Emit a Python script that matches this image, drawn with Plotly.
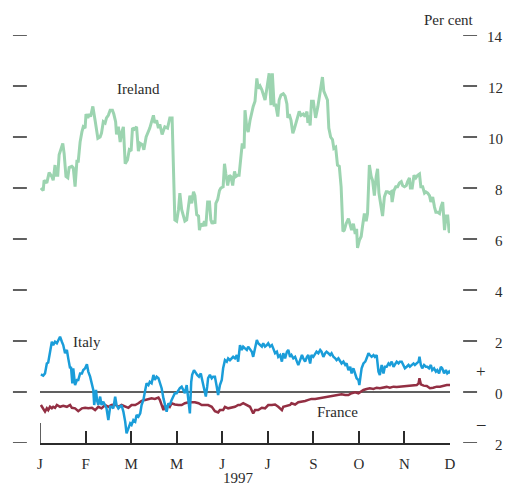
import plotly.graph_objects as go

# ---------------- data (x in months since start of January 1997) ----------------
month_ticks = [0, 1, 2, 3, 4, 5, 6, 7, 8, 9]
month_labels = ["J", "F", "M", "M", "J", "J", "S", "O", "N", "D"]
y_ticks = [-2, 0, 2, 4, 6, 8, 10, 12, 14]
y_tick_labels = ["2", "0", "2", "4", "6", "8", "10", "12", "14"]

ireland_x = [0.02, 0.07, 0.09, 0.15, 0.20, 0.26, 0.29, 0.33, 0.35, 0.39,
             0.42, 0.46, 0.50, 0.53, 0.57, 0.61, 0.64, 0.70, 0.73, 0.77,
             0.81, 0.84, 0.88, 0.92, 0.95, 0.99, 1.01, 1.05, 1.08, 1.11,
             1.16, 1.21, 1.27, 1.32, 1.35, 1.39, 1.43, 1.46, 1.50, 1.54,
             1.59, 1.62, 1.66, 1.68, 1.72, 1.76, 1.79, 1.83, 1.87, 1.92,
             1.96, 2.00, 2.03, 2.07, 2.12, 2.16, 2.20, 2.25, 2.28, 2.33,
             2.38, 2.41, 2.45, 2.49, 2.52, 2.56, 2.60, 2.63, 2.68, 2.74,
             2.80, 2.85, 2.90, 2.96, 3.00, 3.04, 3.07, 3.11, 3.15, 3.18,
             3.22, 3.26, 3.29, 3.33, 3.37, 3.40, 3.44, 3.48, 3.50, 3.53,
             3.57, 3.61, 3.64, 3.68, 3.72, 3.75, 3.78, 3.82, 3.84, 3.86,
             3.90, 3.94, 3.97, 4.02, 4.05, 4.08, 4.12, 4.16, 4.19, 4.23,
             4.27, 4.30, 4.34, 4.37, 4.41, 4.44, 4.48, 4.50, 4.54, 4.57,
             4.61, 4.65, 4.68, 4.72, 4.76, 4.79, 4.83, 4.87, 4.90, 4.94,
             4.98, 5.01, 5.03, 5.07, 5.10, 5.14, 5.17, 5.22, 5.25, 5.29,
             5.34, 5.38, 5.42, 5.44, 5.47, 5.51, 5.55, 5.58, 5.62, 5.66,
             5.69, 5.73, 5.78, 5.82, 5.86, 5.88, 5.91, 5.93, 5.96, 6.00,
             6.05, 6.10, 6.15, 6.20, 6.23, 6.28, 6.31, 6.34, 6.38, 6.42,
             6.45, 6.49, 6.53, 6.57, 6.61, 6.65, 6.68, 6.72, 6.77, 6.81,
             6.84, 6.88, 6.92, 6.95, 6.97, 7.01, 7.05, 7.08, 7.12, 7.16,
             7.19, 7.23, 7.27, 7.30, 7.34, 7.38, 7.41, 7.44, 7.49, 7.52,
             7.56, 7.60, 7.63, 7.67, 7.71, 7.73, 7.77, 7.81, 7.85, 7.89,
             7.93, 7.96, 8.00, 8.04, 8.07, 8.11, 8.13, 8.17, 8.21, 8.25,
             8.29, 8.33, 8.36, 8.40, 8.44, 8.47, 8.51, 8.55, 8.58, 8.62,
             8.66, 8.69, 8.73, 8.77, 8.80, 8.84, 8.88, 8.91, 8.95, 8.98,
             9.00]
ireland_y = [8.0, 7.9, 8.3, 8.2, 8.6, 8.45, 8.3, 8.9, 8.5, 8.5,
             9.3, 9.55, 9.75, 9.35, 8.45, 8.4, 8.8, 8.85, 8.8, 8.05,
             9.05, 9.05, 9.8, 10.2, 10.4, 10.35, 10.9, 10.75, 10.9, 10.8,
             11.2, 10.65, 9.95, 10.0, 10.15, 10.6, 10.55, 10.75, 10.85, 11.05,
             11.05, 10.9, 10.6, 10.1, 10.4, 9.8, 10.15, 10.4, 8.95, 9.1,
             9.5, 9.45, 10.35, 10.3, 10.4, 9.45, 9.75, 9.7, 9.5, 10.0,
             10.2, 10.35, 10.6, 10.85, 10.55, 10.65, 10.35, 10.5, 10.1, 10.4,
             10.35, 10.75, 10.75, 6.75, 6.7, 7.15, 7.8, 7.15, 6.9, 6.7,
             6.75, 7.4, 7.7, 7.4, 7.85, 7.7, 6.95, 6.9, 6.35, 6.6,
             6.5, 6.7, 6.5, 7.45, 7.45, 6.75, 6.6, 6.7, 6.6, 7.4,
             7.55, 7.9, 8.0, 8.05, 8.95, 8.55, 8.1, 8.5, 8.45, 8.1,
             8.65, 8.45, 8.5, 8.5, 9.2, 9.75, 9.55, 11.05, 10.35, 10.2,
             10.65, 11.0, 11.2, 11.4, 12.3, 11.9, 12.0, 11.85, 11.65, 11.45,
             11.9, 12.2, 12.5, 11.25, 12.5, 11.2, 11.3, 10.8, 11.45, 11.65,
             11.7, 11.6, 11.3, 10.75, 10.9, 10.65, 10.15, 10.3, 10.6, 10.8,
             11.0, 10.85, 10.9, 10.8, 11.0, 10.55, 10.85, 10.45, 11.4, 11.4,
             10.75, 11.2, 11.8, 12.35, 11.8, 11.6, 11.45, 10.35, 10.0, 9.9,
             9.55, 9.6, 8.9, 8.85, 8.05, 6.3, 6.35, 6.6, 6.8, 6.55,
             6.35, 6.6, 6.2, 6.4, 5.65, 5.95, 6.1, 6.5, 7.0, 6.7,
             7.0, 8.9, 8.45, 8.3, 7.7, 8.45, 8.75, 7.8, 7.15, 6.9,
             7.65, 7.85, 7.85, 7.8, 7.85, 7.45, 7.9, 8.05, 8.05, 8.2,
             8.25, 8.1, 8.05, 8.1, 8.25, 8.4, 8.0, 8.0, 8.5, 8.4,
             8.5, 8.55, 8.05, 8.05, 7.8, 7.85, 7.8, 7.7, 7.45, 7.65,
             7.25, 7.05, 7.05, 7.0, 7.25, 7.45, 6.35, 6.9, 6.9, 6.3,
             6.25]

italy_x = [0.02, 0.07, 0.11, 0.15, 0.18, 0.22, 0.26, 0.29, 0.33, 0.37,
           0.40, 0.44, 0.48, 0.51, 0.55, 0.59, 0.62, 0.66, 0.68, 0.71,
           0.73, 0.77, 0.81, 0.84, 0.88, 0.92, 0.95, 0.99, 1.03, 1.06,
           1.10, 1.14, 1.17, 1.19, 1.23, 1.25, 1.28, 1.32, 1.35, 1.39,
           1.43, 1.46, 1.50, 1.54, 1.57, 1.61, 1.65, 1.68, 1.72, 1.76,
           1.79, 1.83, 1.87, 1.90, 1.94, 1.98, 2.01, 2.05, 2.09, 2.12,
           2.16, 2.20, 2.23, 2.27, 2.31, 2.34, 2.38, 2.41, 2.45, 2.49,
           2.52, 2.56, 2.60, 2.63, 2.67, 2.71, 2.74, 2.78, 2.82, 2.85,
           2.89, 2.93, 2.96, 3.00, 3.04, 3.07, 3.11, 3.15, 3.18, 3.22,
           3.26, 3.29, 3.32, 3.34, 3.38, 3.42, 3.45, 3.49, 3.53, 3.56,
           3.60, 3.64, 3.67, 3.69, 3.73, 3.77, 3.80, 3.84, 3.88, 3.91,
           3.95, 3.99, 4.02, 4.06, 4.10, 4.13, 4.17, 4.21, 4.24, 4.28,
           4.32, 4.35,
           4.39, 4.43, 4.46, 4.50, 4.54, 4.57, 4.61, 4.65, 4.68, 4.72,
           4.76, 4.79, 4.83, 4.87, 4.90, 4.94, 4.98, 5.01, 5.05, 5.09,
           5.12, 5.16, 5.20, 5.23, 5.27, 5.31, 5.34, 5.38, 5.42, 5.45,
           5.49, 5.52, 5.56, 5.60, 5.64, 5.67, 5.71, 5.75, 5.78, 5.82,
           5.86, 5.89, 5.93, 5.96, 6.00, 6.04, 6.07, 6.11, 6.15, 6.18,
           6.22, 6.26, 6.29, 6.33, 6.37, 6.40, 6.44, 6.48, 6.51, 6.55,
           6.59, 6.62, 6.66, 6.70, 6.73, 6.77, 6.81, 6.84, 6.88, 6.92,
           6.95, 6.99, 7.01, 7.04, 7.06, 7.10, 7.14, 7.17, 7.21, 7.24,
           7.28, 7.32, 7.35, 7.39, 7.43, 7.46, 7.50, 7.54, 7.57, 7.61,
           7.65, 7.68, 7.72, 7.76, 7.79, 7.83, 7.87, 7.90, 7.94, 7.98,
           8.01, 8.05, 8.09, 8.12, 8.16, 8.20, 8.23, 8.27, 8.31, 8.33,
           8.36, 8.39, 8.43, 8.47, 8.50, 8.54, 8.58, 8.61, 8.65, 8.69,
           8.72, 8.76, 8.80, 8.83, 8.87, 8.91, 8.94, 8.98, 9.00]
italy_y = [0.69, 0.64, 0.73, 1.12, 1.16, 1.65, 1.97, 1.84, 1.97, 1.91,
           2.04, 2.17, 1.97, 1.84, 1.52, 1.65, 1.32, 0.93, 0.99, 0.34,
           0.93, 0.27, 0.47, 0.47, 0.73, 0.73, 0.86, 0.93, 1.09, 0.80,
           0.60, 0.34, 0.08, -0.51, 0.08, -0.31, -0.51, -0.18, -0.51, -0.38,
           -0.51, -0.64, -1.10, -0.58, -0.58, -0.64, -0.18, -0.51, -0.64, -0.58,
           -0.51, -0.77, -1.16, -1.62, -1.42, -1.23, -1.29, -1.10, -1.16, -0.90,
           -0.97, -0.84, -0.51, -0.31, 0.08, 0.34, 0.27, 0.40, 0.34, 0.67,
           0.47, 0.60, 0.54, 0.34, 0.15, -0.25, -0.51, -0.77, -0.44, -0.51,
           -0.31, -0.18, -0.05, -0.05, 0.08, 0.15, 0.21, 0.08, -0.05, 0.27,
           -0.31, -0.84, 0.40, 0.67, 0.86, 0.73, 0.67, 0.60, 0.73, 0.47,
           0.08, -0.18, 0.21, 0.54, 0.67, 0.54, 0.60, 0.60, 0.21, -0.12,
           0.27, 0.47, 0.93, 1.25, 1.19, 1.32, 1.25, 1.32, 1.38, 1.32,
           1.45, 1.19,
           1.84, 1.65, 1.78, 1.71, 1.65, 1.78, 1.65, 1.58, 1.38, 1.71,
           2.04, 1.91, 1.84, 1.78, 1.91, 1.78, 1.84, 1.91, 1.78, 1.84,
           1.71, 1.52, 1.58, 1.38, 1.45, 1.19, 1.52, 1.32, 1.58, 1.65,
           1.38, 1.45, 1.32, 1.38, 1.19, 1.06, 1.25, 1.45, 1.32, 1.19,
           1.38, 1.45, 1.12, 1.45, 1.38, 1.52, 1.58, 1.52, 1.65, 1.58,
           1.38, 1.52, 1.58, 1.52, 1.45, 1.52, 1.38, 1.32, 1.25, 1.32,
           1.19, 1.12, 1.19, 1.06, 1.12, 0.86, 0.99, 0.73, 0.93, 0.73,
           0.54, 0.47, 0.27, 0.67, 0.93, 1.12, 1.19, 1.32, 1.52, 1.45,
           1.38, 1.45, 1.38, 1.45, 0.80, 0.67, 1.06, 0.73, 0.99, 0.99,
           1.12, 1.06, 1.19, 0.99, 1.06, 1.19, 1.12, 1.19, 1.19, 1.06,
           0.93, 0.99, 1.06, 0.99, 1.06, 1.12, 1.06, 1.12, 1.19, 1.38,
           1.06, 0.93, 1.06, 0.99, 0.99, 0.93, 1.06, 0.86, 0.93, 0.80,
           0.86, 0.73, 0.99, 0.93, 0.73, 0.86, 0.73, 0.80, 0.73]

france_x = [0.02, 0.07, 0.11, 0.15, 0.18, 0.22, 0.26, 0.29, 0.33, 0.37,
            0.44, 0.51, 0.59, 0.66, 0.70, 0.77, 0.84, 0.92, 0.99, 1.06,
            1.14, 1.21, 1.28, 1.35, 1.43, 1.50, 1.57, 1.65, 1.72, 1.79,
            1.87, 1.94, 2.01, 2.09, 2.16, 2.23, 2.31, 2.38, 2.45, 2.52,
            2.60, 2.63, 2.67, 2.71, 2.74, 2.78, 2.82, 2.85, 2.89, 2.96,
            3.04, 3.11, 3.18, 3.26, 3.33, 3.40, 3.48, 3.55, 3.62, 3.69,
            3.77, 3.84, 3.91, 3.95, 4.02, 4.06, 4.13, 4.21, 4.28, 4.35,
            4.39, 4.46, 4.54, 4.61, 4.68, 4.72, 4.79, 4.87, 4.94, 5.01,
            5.09, 5.16, 5.23, 5.31, 5.34, 5.42, 5.49, 5.52, 5.60, 5.67,
            5.75, 5.82, 5.89, 5.96, 6.04, 6.11, 6.18, 6.26, 6.33, 6.40,
            6.48, 6.55, 6.62, 6.70, 6.77, 6.84, 6.92, 6.99, 7.06, 7.10,
            7.17, 7.24, 7.32, 7.39, 7.46, 7.54, 7.61, 7.68, 7.76, 7.83,
            7.90, 7.98, 8.05, 8.12, 8.20, 8.27, 8.31, 8.33, 8.36, 8.42,
            8.49, 8.56, 8.63, 8.71, 8.78, 8.85, 8.93, 9.00]
france_y = [-0.51, -0.64, -0.77, -0.64, -0.71, -0.58, -0.64, -0.58, -0.62, -0.51,
            -0.58, -0.54, -0.58, -0.51, -0.62, -0.64, -0.75, -0.64, -0.62, -0.64,
            -0.62, -0.71, -0.58, -0.64, -0.51, -0.58, -0.51, -0.49, -0.58, -0.51,
            -0.58, -0.62, -0.51, -0.51, -0.44, -0.35, -0.31, -0.27, -0.25, -0.27,
            -0.22, -0.31, -0.51, -0.71, -0.51, -0.64, -0.51, -0.58, -0.44, -0.49,
            -0.51, -0.51, -0.44, -0.40, -0.40, -0.40, -0.44, -0.51, -0.51, -0.51,
            -0.58, -0.75, -0.80, -0.71, -0.71, -0.58, -0.64, -0.62, -0.58, -0.51,
            -0.51, -0.44, -0.51, -0.58, -0.84, -0.71, -0.71, -0.62, -0.64, -0.51,
            -0.51, -0.49, -0.58, -0.71, -0.58, -0.54, -0.51, -0.44, -0.49, -0.40,
            -0.38, -0.35, -0.31, -0.27, -0.27, -0.25, -0.21, -0.18, -0.16, -0.14,
            -0.14, -0.12, -0.09, -0.12, -0.12, -0.05, -0.01, -0.05, 0.04, 0.08,
            0.12, 0.15, 0.12, 0.17, 0.15, 0.17, 0.20, 0.17, 0.21, 0.20,
            0.21, 0.24, 0.24, 0.25, 0.27, 0.27, 0.34, 0.54, 0.30, 0.25,
            0.24, 0.15, 0.17, 0.21, 0.21, 0.25, 0.27, 0.27]

assert len(ireland_x) == len(ireland_y), (len(ireland_x), len(ireland_y))
assert len(italy_x) == len(italy_y), (len(italy_x), len(italy_y))
assert len(france_x) == len(france_y), (len(france_x), len(france_y))

# ---------------- styling ----------------
INK = "#2b2b2b"
SERIF = "Liberation Serif, Times New Roman, serif"
C_IRL = "#9cd4b0"
C_ITA = "#1a9dd9"
C_FRA = "#932f43"

fig = go.Figure()
fig.add_trace(go.Scatter(x=ireland_x, y=ireland_y, mode="lines",
                         line=dict(color=C_IRL, width=3), name="Ireland"))
fig.add_trace(go.Scatter(x=france_x, y=france_y, mode="lines",
                         line=dict(color=C_FRA, width=2.5), name="France"))
fig.add_trace(go.Scatter(x=italy_x, y=italy_y, mode="lines",
                         line=dict(color=C_ITA, width=2.5), name="Italy"))

shapes = []
# zero line
shapes.append(dict(type="line", xref="x", yref="y", x0=month_ticks[0], x1=month_ticks[-1],
                   y0=0, y1=0, line=dict(color=INK, width=1.5), layer="below"))
# long first tick
shapes.append(dict(type="line", xref="x", yref="y", x0=month_ticks[0], x1=month_ticks[0],
                   y0=-2, y1=-1.22, line=dict(color=INK, width=1.5)))
# left and right detached y ticks
for v in y_ticks:
    shapes.append(dict(type="line", xref="paper", yref="y", x0=-0.066, x1=-0.032,
                       y0=v, y1=v, line=dict(color=INK, width=1.5)))
    shapes.append(dict(type="line", xref="paper", yref="y", x0=1.032, x1=1.066,
                       y0=v, y1=v, line=dict(color=INK, width=1.5)))

annotations = []
for v, t in zip(y_ticks, y_tick_labels):
    annotations.append(dict(x=1.134, y=v, xref="paper", yref="y", text=t, showarrow=False,
                            xanchor="right", yanchor="middle", yshift=-2,
                            font=dict(family=SERIF, size=15, color=INK)))
annotations += [
    dict(x=1.063, y=1.037, xref="paper", yref="paper", text="Per cent", showarrow=False,
         xanchor="right", yanchor="middle", font=dict(family=SERIF, size=15, color=INK)),
    dict(x=1.076, y=0.82, xref="paper", yref="y", text="+", showarrow=False,
         xanchor="center", yanchor="middle", font=dict(family=SERIF, size=17, color=INK)),
    dict(x=1.076, y=-1.22, xref="paper", yref="y", text="\u2013", showarrow=False,
         xanchor="center", yanchor="middle", font=dict(family=SERIF, size=17, color=INK)),
    dict(x=2.16, y=11.88, xref="x", yref="y", text="Ireland", showarrow=False,
         xanchor="center", yanchor="middle", font=dict(family=SERIF, size=15, color=INK)),
    dict(x=1.03, y=1.96, xref="x", yref="y", text="Italy", showarrow=False,
         xanchor="center", yanchor="middle", font=dict(family=SERIF, size=15, color=INK)),
    dict(x=6.54, y=-0.78, xref="x", yref="y", text="France", showarrow=False,
         xanchor="center", yanchor="middle", font=dict(family=SERIF, size=15, color=INK)),
    dict(x=4.35, y=-0.085, xref="x", yref="paper", text="1997", showarrow=False,
         xanchor="center", yanchor="middle", font=dict(family=SERIF, size=15, color=INK)),
]

fig.update_layout(
    width=507, height=486,
    margin=dict(l=40, r=57, t=35, b=43, pad=0),
    paper_bgcolor="white", plot_bgcolor="white",
    showlegend=False,
    font=dict(family=SERIF, color=INK),
    shapes=shapes, annotations=annotations,
    xaxis=dict(range=[month_ticks[0], month_ticks[-1]], tickvals=month_ticks, ticktext=month_labels,
               ticks="inside", ticklen=12, tickwidth=1.5, tickcolor=INK,
               showline=True, linecolor=INK, linewidth=1.5, showgrid=False, zeroline=False,
               tickfont=dict(family=SERIF, size=15, color=INK), ticklabelstandoff=6),
    yaxis=dict(range=[-2, 14], showgrid=False, zeroline=False, showticklabels=False,
               ticks="", showline=False),
)

# remove the default page margin so the figure fills the 507x486 window exactly
fig.write_html("out.html", config={"displayModeBar": False},
               post_script="document.body.style.margin='0';document.body.style.overflow='hidden';")
